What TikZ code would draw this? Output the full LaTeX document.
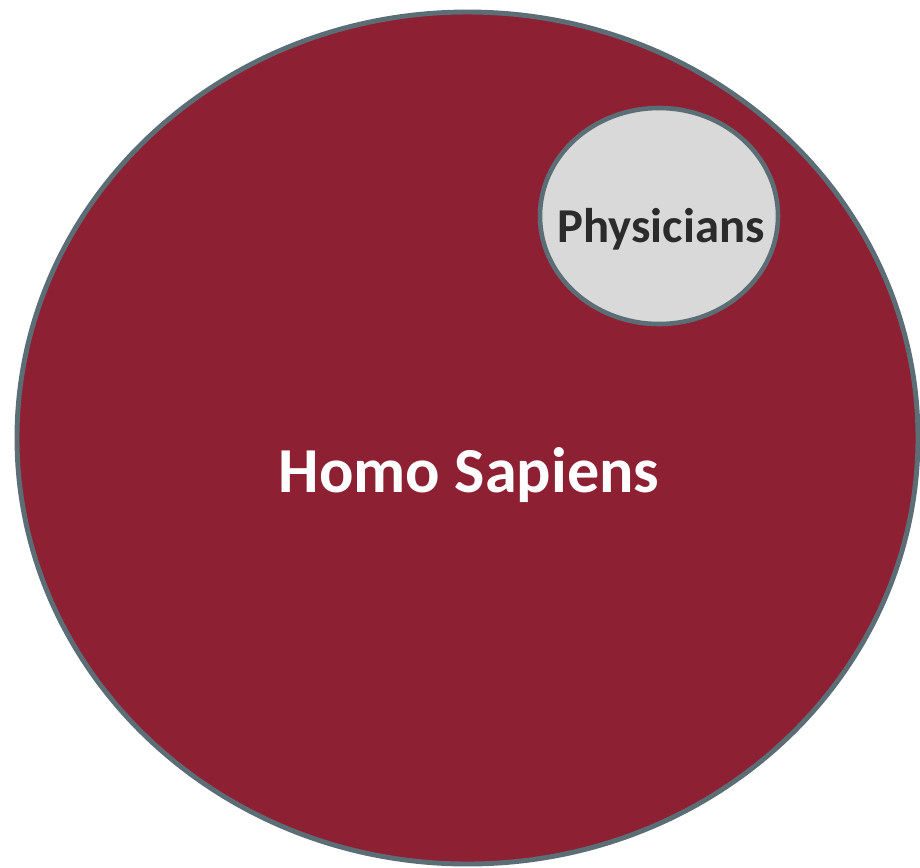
\documentclass[tikz,border=0pt]{standalone}
\usepackage{fontspec}
\setmainfont{Carlito}
\usepackage{tikz}
\usetikzlibrary{positioning}

\definecolor{menschrot}{HTML}{8E2033}
\definecolor{rand}{HTML}{5C6E75}
\definecolor{hellgrau}{HTML}{D9D9D9}
\definecolor{schrift}{HTML}{2B2B2B}

\begin{document}
\begin{tikzpicture}[x=0.02cm, y=-0.02cm]
  \useasboundingbox (0,0) rectangle (920,867);

  % Homo Sapiens
  \draw[rand, line width=2.8pt, fill=menschrot]
    (467.5,438) ellipse [x radius=450.5, y radius=426];

  % Physicians
  \draw[rand, line width=2.6pt, fill=hellgrau]
    (659,216) ellipse [x radius=119, y radius=108];

  % Beschriftung
  \node[text=white, font=\bfseries\fontsize{36.5}{40}\selectfont, anchor=base]
    (homo) at (469,492) {Homo Sapiens};
  \node[text=schrift, font=\bfseries\fontsize{27.7}{32}\selectfont, anchor=base]
    (phys) at (661,242) {Physicians};
\end{tikzpicture}
\end{document}
